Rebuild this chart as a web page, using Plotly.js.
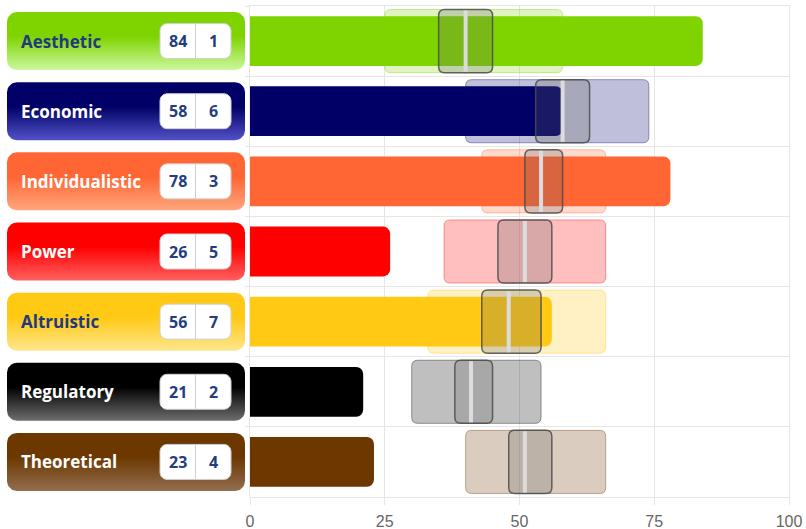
<!DOCTYPE html>
<html>
<head>
<meta charset="utf-8">
<script src="https://cdn.plot.ly/plotly-3.0.1.min.js"></script>
<style>
  html, body { margin: 0; padding: 0; background: #fff; }
  #chart { width: 806px; height: 529px; }
</style>
</head>
<body>
<div id="chart"></div>
<script>
// ---- data ----
const categories = ['Aesthetic', 'Economic', 'Individualistic', 'Power', 'Altruistic', 'Regulatory', 'Theoretical'];
const scores     = [84, 58, 78, 26, 56, 21, 23];
const ranks      = [1, 6, 3, 5, 7, 2, 4];
const rangeLow   = [25, 40, 43, 36, 33, 30, 40];
const quartile1  = [35, 53, 51, 46, 43, 38, 48];
const medians    = [40, 58, 54, 51, 48, 41, 51];
const quartile3  = [45, 63, 58, 56, 54, 45, 56];
const rangeHigh  = [58, 74, 66, 66, 66, 54, 66];
const xTickValues = [0, 25, 50, 75, 100];

// ---- styles ----
const barColors  = ['#7FD400', '#000066', '#FF6633', '#FF0000', '#FFC914', '#000000', '#6C3800'];
const tileFade   = ['#CBF89E', '#5252C8', '#FFA67E', '#FF6060', '#FFE68C', '#6E6E6E', '#926E50'];
const tileText   = ['#213A7D', '#FFFFFF', '#FFFFFF', '#FFFFFF', '#213A7D', '#FFFFFF', '#FFFFFF'];
const numberText = '#233D7F';
const gridColor  = '#E6E6E6';

// ---- frame geometry (pixels) ----
const W = 806, H = 529;
const margin = { l: 0, r: 17, t: 6, b: 32, pad: 0 };
const plotW = W - margin.l - margin.r;
const plotH = H - margin.t - margin.b;
const panelW = 250;                        // label panel width, 1 unit = 1 px
const rowPx = plotH / categories.length;   // px per category row
const xRange = [0, 100];
const xPerPx = (xRange[1] - xRange[0]) / (plotW - panelW);

function rgba(hex, a) {
  const n = parseInt(hex.slice(1), 16);
  return `rgba(${(n >> 16) & 255},${(n >> 8) & 255},${n & 255},${a})`;
}

// rounded rectangle polygon in panel coordinates (x in px, y in rows)
function roundedRect(x0, x1, yc, halfPx, rPx) {
  const ry = rPx / rowPx, hy = halfPx / rowPx;
  const y0 = yc - hy, y1 = yc + hy;
  const xs = [], ys = [];
  const corner = (cx, cy, a0) => {
    for (let k = 0; k <= 8; k++) {
      const a = (a0 + 90 * k / 8) * Math.PI / 180;
      xs.push(cx + rPx * Math.cos(a));
      ys.push(cy + ry * Math.sin(a));
    }
  };
  corner(x1 - rPx, y0 + ry, 270);
  corner(x1 - rPx, y1 - ry, 0);
  corner(x0 + rPx, y1 - ry, 90);
  corner(x0 + rPx, y0 + ry, 180);
  xs.push(xs[0]); ys.push(ys[0]);
  return { x: xs, y: ys };
}

// rounded rectangle as an SVG path in chart data coordinates (x value, category index)
function roundedPath(x0, x1, yc, halfRows, rPx) {
  const rx = rPx * xPerPx, ry = rPx / rowPx;
  const y0 = yc - halfRows, y1 = yc + halfRows;
  return `M${x0 + rx},${y0} L${x1 - rx},${y0} Q${x1},${y0} ${x1},${y0 + ry} ` +
         `L${x1},${y1 - ry} Q${x1},${y1} ${x1 - rx},${y1} L${x0 + rx},${y1} ` +
         `Q${x0},${y1} ${x0},${y1 - ry} L${x0},${y0 + ry} Q${x0},${y0} ${x0 + rx},${y0} Z`;
}

const traces = [];
const shapes = [];
const noHover = { hoverinfo: 'skip' };
const bandHalf = 0.45;

// score bars
traces.push({
  type: 'bar', orientation: 'h', y: categories, x: scores, width: 0.71,
  marker: { color: barColors, cornerradius: 7, line: { width: 0 } },
  ...noHover
});

categories.forEach((name, i) => {
  // full range band, beneath the score bar
  shapes.push({
    type: 'path', xref: 'x', yref: 'y', layer: 'between',
    path: roundedPath(rangeLow[i], rangeHigh[i], i, bandHalf, 6),
    fillcolor: rgba(barColors[i], 0.25),
    line: { color: rgba(barColors[i], 0.38), width: 1 }
  });
});
categories.forEach((name, i) => {
  // interquartile box above the score bar
  shapes.push({
    type: 'path', xref: 'x', yref: 'y', layer: 'above',
    path: roundedPath(quartile1[i], quartile3[i], i, bandHalf, 6),
    fillcolor: 'rgba(100,100,100,0.25)',
    line: { color: 'rgba(75,75,75,0.85)', width: 1.5 }
  });
  // median
  shapes.push({
    type: 'line', xref: 'x', yref: 'y', layer: 'above',
    x0: medians[i], x1: medians[i],
    y0: i - bandHalf + 1 / rowPx, y1: i + bandHalf - 1 / rowPx,
    line: { color: '#DCDCDC', width: 4 }
  });
});

// label tiles with vertical gradient
const annotations = [];
const tileHalf = 29;
const boxX0 = 160, boxX1 = 231, boxDiv = 195.5, boxHalf = 17.5;
const dividerX = [], dividerY = [];
categories.forEach((name, i) => {
  const tile = roundedRect(7, 245, i, tileHalf, 10);
  traces.push({
    type: 'scatter', mode: 'lines', xaxis: 'x2', yaxis: 'y2',
    x: tile.x, y: tile.y, fill: 'toself', line: { width: 0, color: 'rgba(0,0,0,0)' },
    fillgradient: {
      type: 'vertical',
      start: i - tileHalf / rowPx, stop: i + tileHalf / rowPx,
      colorscale: [[0, barColors[i]], [0.42, barColors[i]], [1, tileFade[i]]]
    },
    ...noHover
  });
  const box = roundedRect(boxX0, boxX1, i, boxHalf, 7);
  traces.push({
    type: 'scatter', mode: 'lines', xaxis: 'x2', yaxis: 'y2',
    x: box.x, y: box.y, fill: 'toself', fillcolor: '#FFFFFF',
    line: { width: 1, color: '#CFCFCF' }, ...noHover
  });
  dividerX.push(boxDiv, boxDiv, null);
  dividerY.push(i - boxHalf / rowPx, i + boxHalf / rowPx, null);

  annotations.push({
    xref: 'x2', yref: 'y2', x: 19, y: i, xanchor: 'left', yanchor: 'middle',
    text: name, showarrow: false,
    font: { family: 'Open Sans, sans-serif', size: 17, weight: 700, color: tileText[i] }
  });
  annotations.push({
    xref: 'x2', yref: 'y2', x: (boxX0 + boxDiv) / 2, y: i, xanchor: 'center', yanchor: 'middle',
    text: String(scores[i]), showarrow: false,
    font: { family: 'Open Sans, sans-serif', size: 16, weight: 700, color: numberText }
  });
  annotations.push({
    xref: 'x2', yref: 'y2', x: (boxDiv + boxX1) / 2, y: i, xanchor: 'center', yanchor: 'middle',
    text: String(ranks[i]), showarrow: false,
    font: { family: 'Open Sans, sans-serif', size: 16, weight: 700, color: numberText }
  });
});
traces.push({
  type: 'scatter', mode: 'lines', xaxis: 'x2', yaxis: 'y2',
  x: dividerX, y: dividerY, line: { width: 1, color: '#CFCFCF' }, ...noHover
});

const layout = {
  width: W, height: H, margin: margin,
  paper_bgcolor: '#FFFFFF', plot_bgcolor: 'rgba(0,0,0,0)',
  showlegend: false, barmode: 'overlay',
  font: { family: 'Liberation Sans, Arial, sans-serif' },
  xaxis: {
    domain: [panelW / plotW, 1], range: xRange,
    tickvals: xTickValues, ticktext: xTickValues.map(String),
    showgrid: true, gridcolor: gridColor, gridwidth: 1,
    zeroline: false, showline: true, mirror: true, linecolor: gridColor, linewidth: 1,
    ticks: 'outside', ticklen: 7, tickcolor: gridColor, ticklabelstandoff: 3,
    tickfont: { size: 16, color: '#666666' }, fixedrange: true
  },
  yaxis: {
    type: 'category', categoryorder: 'array', categoryarray: categories,
    range: [categories.length - 0.5, -0.5], domain: [0, 1],
    tickson: 'boundaries', showgrid: true, gridcolor: gridColor,
    showticklabels: false, ticks: 'outside', ticklen: 4, tickcolor: gridColor,
    zeroline: false, showline: true, mirror: true, linecolor: gridColor, fixedrange: true
  },
  xaxis2: { domain: [0, panelW / plotW], range: [0, panelW], anchor: 'y2', visible: false, fixedrange: true },
  yaxis2: { domain: [0, 1], range: [categories.length - 0.5, -0.5], anchor: 'x2', visible: false, fixedrange: true },
  shapes: shapes,
  annotations: annotations
};

Plotly.newPlot('chart', traces, layout, { staticPlot: true, displayModeBar: false });
</script>
</body>
</html>
